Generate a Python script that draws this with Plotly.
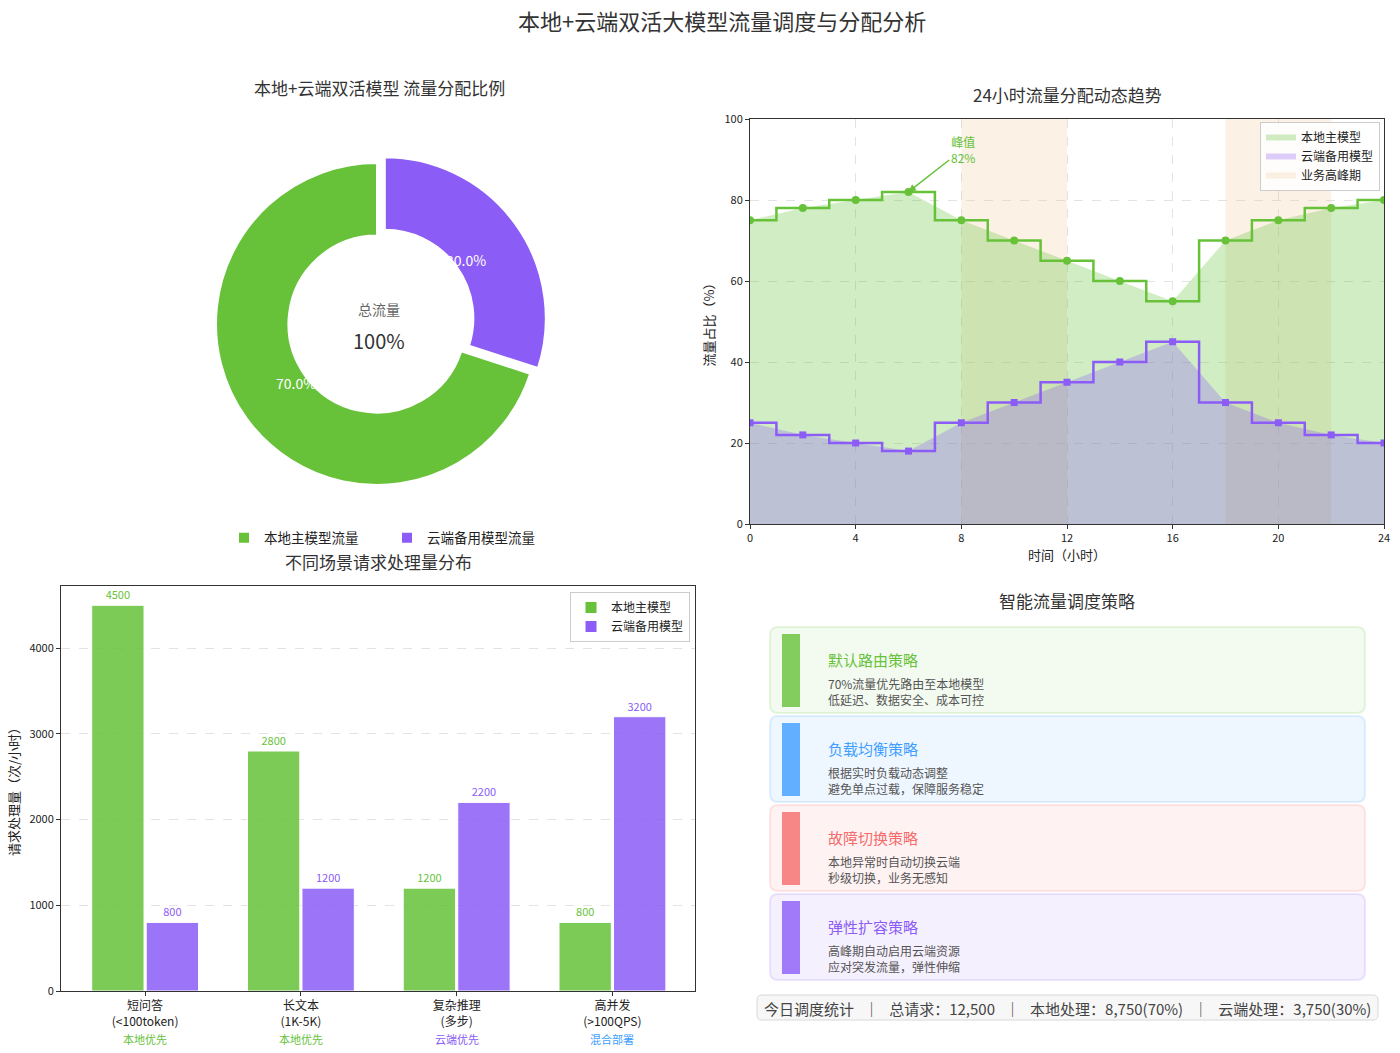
import math
import plotly.graph_objects as go

W, H = 1400, 1053
FONT = "Noto Sans CJK SC, Noto Sans, sans-serif"

GREEN = "#67C23A"
PURPLE = "#8B5CF6"
BLUE = "#409EFF"
RED = "#F56C6C"

# ---------------- data ----------------
share_labels = ["本地主模型流量", "云端备用模型流量"]
share_values = [70, 30]
share_pull = [0, 0.06]

hours = [0, 2, 4, 6, 8, 10, 12, 14, 16, 18, 20, 22, 24]
local_pct = [75, 78, 80, 82, 75, 70, 65, 60, 55, 70, 75, 78, 80]
cloud_pct = [25, 22, 20, 18, 25, 30, 35, 40, 45, 30, 25, 22, 20]
peak_starts = [8, 18]
peak_ends = [12, 22]
peak_hour = 6
peak_value = 82

scenario_names = ["短问答<br>(&lt;100token)", "长文本<br>(1K-5K)", "复杂推理<br>(多步)", "高并发<br>(&gt;100QPS)"]
local_req = [4500, 2800, 1200, 800]
cloud_req = [800, 1200, 2200, 3200]
scenario_policy = ["本地优先", "本地优先", "云端优先", "混合部署"]
policy_colors = [GREEN, GREEN, PURPLE, BLUE]

strategy_titles = ["默认路由策略", "负载均衡策略", "故障切换策略", "弹性扩容策略"]
strategy_desc = [
    ["70%流量优先路由至本地模型", "低延迟、数据安全、成本可控"],
    ["根据实时负载动态调整", "避免单点过载，保障服务稳定"],
    ["本地异常时自动切换云端", "秒级切换，业务无感知"],
    ["高峰期自动启用云端资源", "应对突发流量，弹性伸缩"],
]
strategy_colors = [GREEN, BLUE, RED, PURPLE]
strategy_bars = ["rgba(103,194,58,0.8)", "rgba(64,158,255,0.8)", "rgba(245,108,108,0.8)", "rgba(139,92,246,0.8)"]
strategy_bg = ["rgba(103,194,58,0.08)", "rgba(64,158,255,0.09)", "rgba(245,108,108,0.09)", "rgba(139,92,246,0.09)"]
strategy_border = ["rgba(103,194,58,0.15)", "rgba(64,158,255,0.15)", "rgba(245,108,108,0.15)", "rgba(139,92,246,0.15)"]

stats_text = "今日调度统计   ｜   总请求：12,500   ｜   本地处理：8,750(70%)   ｜   云端处理：3,750(30%)"


def fx(px):
    return px / W


def fy(py):
    return 1 - py / H


def rrect(x0, y0, x1, y1, r):
    return (f"M{fx(x0 + r)},{fy(y0)} L{fx(x1 - r)},{fy(y0)} Q{fx(x1)},{fy(y0)} {fx(x1)},{fy(y0 + r)} "
            f"L{fx(x1)},{fy(y1 - r)} Q{fx(x1)},{fy(y1)} {fx(x1 - r)},{fy(y1)} "
            f"L{fx(x0 + r)},{fy(y1)} Q{fx(x0)},{fy(y1)} {fx(x0)},{fy(y1 - r)} "
            f"L{fx(x0)},{fy(y0 + r)} Q{fx(x0)},{fy(y0)} {fx(x0 + r)},{fy(y0)} Z")


def label(text, x, y, size, color, xanchor="center", **kw):
    return dict(text=text, x=fx(x), y=fy(y), xref="paper", yref="paper", xanchor=xanchor, yanchor="middle",
                showarrow=False, font=dict(size=size, color=color), **kw)


fig = go.Figure()

# ---------------- donut ----------------
PIE_CX, PIE_CY, PIE_R = 377, 324, 161
PIE_START = 108  # degrees clockwise from 12 o'clock where the first slice begins
fig.add_trace(go.Pie(
    labels=share_labels, values=share_values, sort=False, direction="clockwise", rotation=PIE_START,
    hole=0.55, pull=share_pull,
    marker=dict(colors=[GREEN, PURPLE], line=dict(color="white", width=2)),
    textinfo="none",
    domain=dict(x=[fx(PIE_CX - PIE_R * 1.06), fx(PIE_CX + PIE_R * 1.06)],
                y=[fy(PIE_CY + PIE_R * 1.06), fy(PIE_CY - PIE_R * 1.06)]),
    legend="legend3", showlegend=True,
))

# ---------------- 24h trend ----------------
px_, py_ = [], []
for s, e in zip(peak_starts, peak_ends):
    px_ += [s, e, e, s, s, None]
    py_ += [0, 0, 100, 100, 0, None]
fig.add_trace(go.Scatter(x=px_, y=py_, fill="toself", mode="none", fillcolor="rgba(240,200,150,0.25)",
                         name="业务高峰期", legendrank=3, xaxis="x", yaxis="y", hoverinfo="skip"))
fig.add_trace(go.Scatter(x=hours, y=local_pct, fill="tozeroy", mode="none", fillcolor="rgba(103,194,58,0.3)",
                         name="本地主模型", legendrank=1, xaxis="x", yaxis="y"))
fig.add_trace(go.Scatter(x=hours, y=cloud_pct, fill="tozeroy", mode="none", fillcolor="rgba(139,92,246,0.3)",
                         name="云端备用模型", legendrank=2, xaxis="x", yaxis="y"))
fig.add_trace(go.Scatter(x=hours, y=local_pct, mode="lines+markers", line=dict(color=GREEN, width=2.5, shape="hvh"),
                         marker=dict(symbol="circle", size=8, color=GREEN), showlegend=False, xaxis="x", yaxis="y"))
fig.add_trace(go.Scatter(x=hours, y=cloud_pct, mode="lines+markers", line=dict(color=PURPLE, width=2.5, shape="hvh"),
                         marker=dict(symbol="square", size=7, color=PURPLE), showlegend=False, xaxis="x", yaxis="y"))

# ---------------- bars ----------------
xs = list(range(len(scenario_names)))
fig.add_trace(go.Bar(x=xs, y=local_req, name="本地主模型", marker=dict(color=GREEN, opacity=0.85, line=dict(color="white", width=1)),
                     text=local_req, textposition="outside", textfont=dict(color=GREEN, size=11, family=FONT),
                     cliponaxis=False, xaxis="x2", yaxis="y2", legend="legend2"))
fig.add_trace(go.Bar(x=xs, y=cloud_req, name="云端备用模型", marker=dict(color=PURPLE, opacity=0.85, line=dict(color="white", width=1)),
                     text=cloud_req, textposition="outside", textfont=dict(color=PURPLE, size=11, family=FONT),
                     cliponaxis=False, xaxis="x2", yaxis="y2", legend="legend2"))

axis_common = dict(showline=True, mirror=True, linecolor="#333", linewidth=1, ticks="outside", ticklen=4,
                   tickcolor="#333", zeroline=False, automargin=False)

annotations = [
    label("本地+云端双活大模型流量调度与分配分析", 722, 20, 22, "#333"),
    label("本地+云端双活模型 流量分配比例", 379, 88, 17, "#333"),
    label("24小时流量分配动态趋势", 1067, 94, 17, "#333"),
    label("不同场景请求处理量分布", 378, 561, 17, "#333"),
    label("智能流量调度策略", 1067, 600, 17, "#333"),
    label("总流量", 379, 309, 14, "#666"),
    label("100%", 379, 340, 20, "#333"),
    dict(text=f"峰值<br>{peak_value}%", x=peak_hour, y=peak_value, xref="x", yref="y",
         ax=8.05, ay=92.5, axref="x", ayref="y", showarrow=True, arrowhead=2, arrowsize=1,
         arrowwidth=1.5, arrowcolor=GREEN, font=dict(size=12, color=GREEN)),
]

# percentage labels of the donut, placed from the slice angles
total = sum(share_values)
start = PIE_START
for v, p in zip(share_values, share_pull):
    span = 360 * v / total
    mid = math.radians(start + span / 2)
    rr = PIE_R * 0.62 + PIE_R * p
    annotations.append(label(f"{100 * v / total:.1f}%", PIE_CX + rr * math.sin(mid), PIE_CY - rr * math.cos(mid),
                             14, "white"))
    start += span

for i, (p, c) in enumerate(zip(scenario_policy, policy_colors)):
    annotations.append(dict(text=p, x=xs[i], y=fy(1039), xref="x2", yref="paper", xanchor="center",
                            yanchor="middle", showarrow=False, font=dict(size=11, color=c)))

shapes = []
for i in range(len(strategy_titles)):
    y0 = 627 + i * 89
    shapes.append(dict(type="path", path=rrect(770, y0, 1365, y0 + 86, 8), xref="paper", yref="paper",
                       fillcolor=strategy_bg[i], line=dict(color=strategy_border[i], width=2), layer="below"))
    shapes.append(dict(type="rect", x0=fx(782), x1=fx(800), y0=fy(y0 + 80), y1=fy(y0 + 7), xref="paper", yref="paper",
                       fillcolor=strategy_bars[i], line=dict(width=0), layer="below"))
    annotations.append(label(strategy_titles[i], 826, y0 + 32, 15, strategy_colors[i], xanchor="left"))
    annotations.append(label("<br>".join(strategy_desc[i]), 826, y0 + 64, 12, "#555", xanchor="left", align="left"))

shapes.append(dict(type="path", path=rrect(757, 995, 1378, 1020, 5), xref="paper", yref="paper",
                   fillcolor="#f7f7f7", line=dict(color="#d8d8d8", width=1), layer="below"))
annotations.append(label(stats_text, 1067, 1008, 15, "#444"))

fig.update_layout(
    width=W, height=H, margin=dict(l=0, r=0, t=0, b=0, autoexpand=False), paper_bgcolor="white", plot_bgcolor="white",
    font=dict(family=FONT, color="#222"),
    barmode="group", bargap=0.3, bargroupgap=0.04,
    xaxis=dict(domain=[fx(750), fx(1384)], range=[0, 24], tickvals=[0, 4, 8, 12, 16, 20, 24],
               showgrid=True, gridcolor="#e3e3e3", griddash="dash", anchor="y", tickfont=dict(size=11),
               title=dict(text="时间（小时）", font=dict(size=13), standoff=6), **axis_common),
    yaxis=dict(domain=[fy(524), fy(119)], range=[0, 100], tickvals=[0, 20, 40, 60, 80, 100],
               showgrid=True, gridcolor="#e3e3e3", griddash="dash", anchor="x", tickfont=dict(size=11),
               title=dict(text="流量占比（%）", font=dict(size=13), standoff=6), **axis_common),
    xaxis2=dict(domain=[fx(61), fx(695)], range=[-0.54, 3.53], tickvals=xs, ticktext=scenario_names,
                showgrid=False, anchor="y2", tickfont=dict(size=12), ticklabelstandoff=0, **axis_common),
    yaxis2=dict(domain=[fy(991), fy(586)], range=[0, 4725], tickvals=[0, 1000, 2000, 3000, 4000],
                showgrid=True, gridcolor="#e3e3e3", griddash="dash", anchor="x2", tickfont=dict(size=11),
                title=dict(text="请求处理量（次/小时）", font=dict(size=13), standoff=6), **axis_common),
    legend=dict(x=fx(1380), y=fy(122), xanchor="right", yanchor="top", bgcolor="rgba(255,255,255,0.85)",
                bordercolor="#cccccc", borderwidth=1, font=dict(size=12), traceorder="normal", tracegroupgap=0),
    legend2=dict(x=fx(690), y=fy(592), xanchor="right", yanchor="top", bgcolor="rgba(255,255,255,0.85)",
                 bordercolor="#cccccc", borderwidth=1, font=dict(size=12)),
    legend3=dict(x=fx(387), y=fy(538), xanchor="center", yanchor="middle", orientation="h",
                 font=dict(size=13.5), bgcolor="rgba(0,0,0,0)", entrywidth=118, entrywidthmode="pixels"),
    annotations=annotations, shapes=shapes, showlegend=True,
)

fig.write_html("out.html")
